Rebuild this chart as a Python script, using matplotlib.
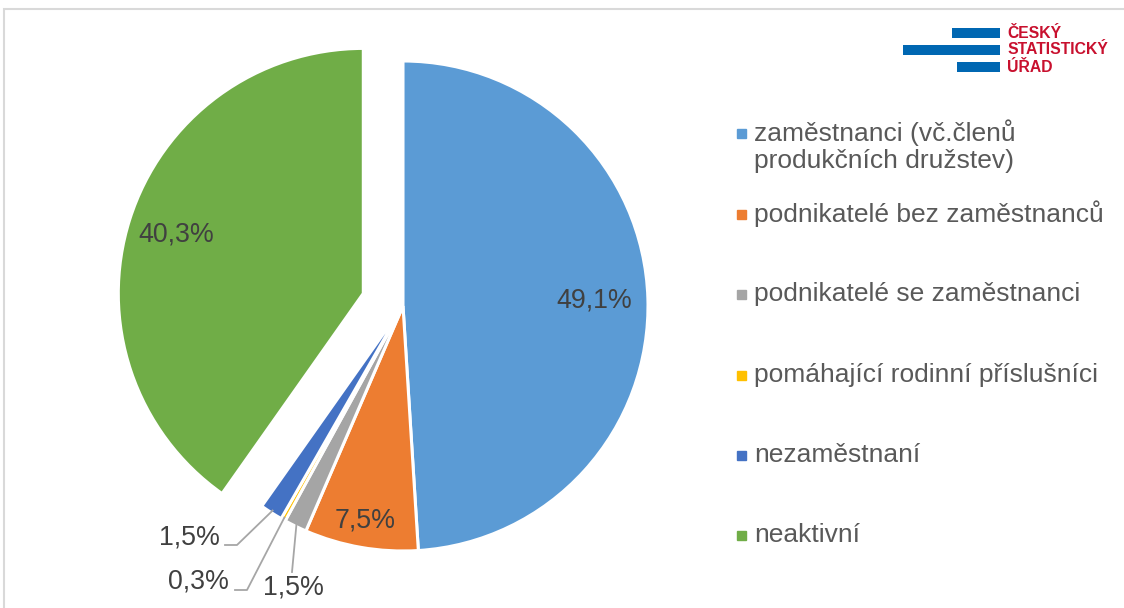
import matplotlib

matplotlib.use("Agg")
import matplotlib.pyplot as plt
import numpy as np
from matplotlib.patches import Rectangle

plt.rcParams["font.family"] = ["Liberation Sans", "DejaVu Sans"]

categories = [
    "zaměstnanci (vč.členů\nprodukčních družstev)",
    "podnikatelé bez zaměstnanců",
    "podnikatelé se zaměstnanci",
    "pomáhající rodinní příslušníci",
    "nezaměstnaní",
    "neaktivní",
]
shares = [49.1, 7.5, 1.5, 0.3, 1.5, 40.3]
colors = ["#5B9BD5", "#ED7D31", "#A5A5A5", "#FFC000", "#4472C4", "#70AD47"]
explode_frac = [0, 0, 0, 0, 0, 0.17]

W, H = 1124, 608


def py(y):
    # pixel row (from top) -> data y (from bottom)
    return H - y


fig = plt.figure(figsize=(W / 100, H / 100), dpi=100)
ax = fig.add_axes([0, 0, 1, 1])

cx, cy, r = 403, 306, 245
wedges, _ = ax.pie(
    shares, colors=colors, startangle=90, counterclock=False,
    center=(cx, py(cy)), radius=r, explode=[e * r for e in explode_frac],
    wedgeprops=dict(edgecolor="white", linewidth=2.2),
)
ax.set_xlim(0, W)
ax.set_ylim(0, H)
ax.set_aspect("equal")
ax.axis("off")


def fmt(v):
    return f"{v:.1f}".replace(".", ",") + "%"


def mid_point(w, frac):
    a = np.deg2rad((w.theta1 + w.theta2) / 2)
    x0, y0 = w.center
    return x0 + frac * w.r * np.cos(a), y0 + frac * w.r * np.sin(a)


# labels inside the big slices
for i, d in [(0, 0.78), (1, 0.89), (5, 0.80)]:
    x, y = mid_point(wedges[i], d)
    ax.text(x, y, fmt(shares[i]), ha="center", va="center", fontsize=19.3, color="#404040")

# small slices: leader lines + outside labels (elbow, line end, text pos in pixels)
lead = {
    4: [(237, 545), (225, 545), (220, 537, "right")],
    3: [(247, 590), (235, 590), (229, 582, "right")],
    2: [(292, 572), (292, 572), (293, 587, "center")],
}
for i, (elbow, end, (tx, ty, ha)) in lead.items():
    ax_, ay_ = mid_point(wedges[i], 0.99)
    ax.plot([ax_, elbow[0], end[0]], [ay_, py(elbow[1]), py(end[1])], color="#A6A6A6", lw=1.3)
    ax.text(tx, py(ty), fmt(shares[i]), ha=ha, va="center", fontsize=19.3, color="#404040")

# legend, drawn by hand to keep the Excel layout
leg_y = [133, 214, 294, 375, 455, 535]
for c, lab, y in zip(colors, categories, leg_y):
    multi = "\n" in lab
    ty = py(y) + 14 if multi else py(y)
    ax.add_patch(Rectangle((737, py(y) - 4.5), 9, 9, color=c))
    ax.text(754, ty, lab, ha="left", va="top" if multi else "center",
            fontsize=19, color="#595959", linespacing=1.2)

# CZSO logo
blue_logo, red_logo = "#0067B2", "#C8102E"
for x0, y0, x1 in [(952, 28, 1000), (903, 45, 1000), (957, 62, 1000)]:
    ax.add_patch(Rectangle((x0, py(y0 + 10)), x1 - x0, 10, color=blue_logo, lw=0))
for txt, y in [("ČESKÝ", 33), ("STATISTICKÝ", 50), ("ÚŘAD", 67)]:
    ax.text(1007, py(y), txt, ha="left", va="center", fontsize=11.3,
            fontweight="bold", color=red_logo)

# chart area frame
ax.add_patch(Rectangle((4, -5), W, py(9) + 5, fill=False, edgecolor="#D9D9D9", lw=1.5))

fig.savefig("out.png", dpi=100)
